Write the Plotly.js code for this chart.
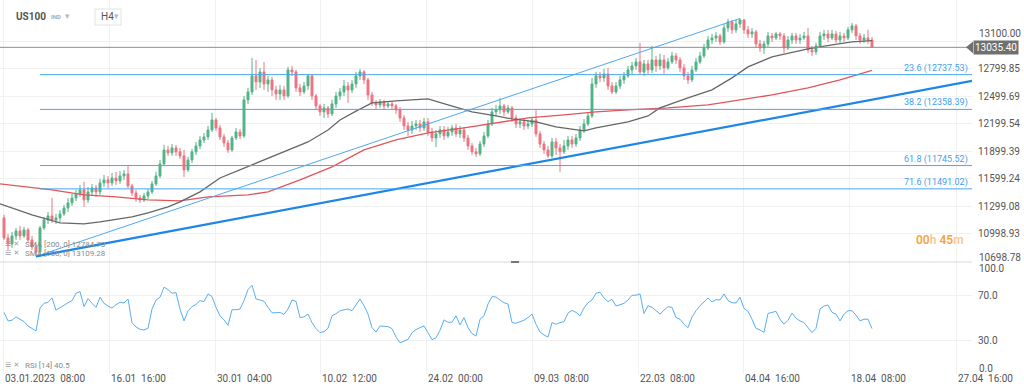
<!DOCTYPE html>
<html><head><meta charset="utf-8">
<script src="https://cdn.plot.ly/plotly-3.0.1.min.js"></script>
<style>html,body{margin:0;padding:0;background:#fff;}#chart{width:1024px;height:392px;}</style>
</head><body><div id="chart"></div>
<script>
// ---- data (US100, H4) ----
const openP = [11174,10956,10890,10978,11032,10978,11043,10934,10857,10803,
11065,11152,11196,11152,11174,11218,11283,11338,11392,11436,
11480,11370,11458,11501,11458,11556,11589,11556,11610,11578,
11632,11654,11523,11447,11392,11370,11414,11458,11545,11632,
11763,11916,11884,11938,11895,11851,11698,11807,11895,11960,
12025,12058,12134,12243,12156,12058,11992,11916,12047,12112,
12069,12462,12549,12724,12658,12767,12636,12680,12571,12527,
12571,12505,12789,12767,12593,12549,12614,12724,12505,12396,
12331,12374,12309,12418,12505,12549,12614,12571,12636,12724,
12767,12680,12516,12429,12407,12440,12396,12418,12396,12353,
12265,12178,12134,12178,12200,12156,12222,12112,12047,12091,
12134,12069,12112,12156,12091,12134,12047,11960,11895,11873,
11981,12069,12200,12331,12353,12396,12331,12374,12265,12200,
12222,12178,12200,12243,12091,11981,11916,11851,12003,11938,
11895,11960,12025,11981,12047,12134,12200,12287,12636,12724,
12702,12745,12614,12549,12614,12680,12724,12789,12833,12876,
12767,12855,12789,12898,12833,12898,12811,12876,12942,12898,
12811,12724,12680,12789,12876,12942,13029,13116,13138,13160,
13095,13247,13313,13226,13291,13335,13226,13182,13204,13073,
13029,13073,13160,13138,13182,13160,13029,13116,13160,13116,
13138,13160,13007,12986,13051,13160,13182,13138,13182,13116,
13160,13138,13226,13269,13160,13116,13138,13116];
const highP = [11207,10999,11021,11065,11087,11076,11065,10978,10890,11087,
11185,11239,11392,11218,11261,11316,11392,11436,11480,11534,
11567,11512,11545,11534,11600,11643,11632,11665,11676,11687,
11698,11752,11545,11480,11425,11447,11490,11578,11676,11807,
11971,11960,11981,11971,11938,11916,11840,11927,12003,12069,
12101,12178,12320,12265,12189,12091,12025,12069,12156,12145,
12505,12593,12920,12898,12811,12876,12724,12713,12614,12625,
12614,12822,12833,12789,12636,12658,12745,12745,12527,12418,
12418,12396,12462,12549,12593,12680,12658,12680,12767,12800,
12789,12702,12549,12462,12473,12462,12451,12440,12418,12385,
12298,12222,12233,12243,12243,12265,12265,12156,12134,12178,
12178,12167,12189,12200,12178,12167,12080,11992,11938,12014,
12112,12243,12374,12407,12484,12418,12407,12396,12298,12265,
12254,12243,12276,12353,12123,12014,11960,12047,12047,11981,
12025,12069,12069,12091,12178,12254,12320,12702,12767,12767,
12800,12811,12658,12658,12724,12767,12833,12876,12920,13084,
12898,12898,13051,12942,12964,12953,12920,12986,12975,12931,
12855,12767,12833,12920,12986,13073,13160,13182,13204,13182,
13291,13346,13335,13335,13350,13340,13269,13247,13226,13116,
13106,13204,13193,13204,13204,13193,13160,13193,13193,13182,
13204,13247,13051,13084,13204,13226,13226,13226,13215,13204,
13193,13258,13302,13291,13193,13182,13226,13149];
const lowP = [10934,10825,10847,10934,10934,10956,10901,10825,10754,10759,
11043,11108,11119,11108,11130,11196,11239,11305,11359,11403,
11294,11338,11414,11403,11425,11512,11501,11523,11534,11545,
11589,11501,11414,11349,11338,11349,11381,11436,11523,11610,
11742,11851,11851,11851,11818,11621,11676,11774,11862,11927,
11992,12025,12112,12123,12025,11949,11884,11895,12025,12036,
12047,12418,12516,12571,12593,12571,12549,12505,12462,12462,
12462,12484,12724,12549,12505,12527,12571,12462,12353,12287,
12265,12265,12287,12374,12462,12505,12429,12538,12593,12680,
12636,12462,12396,12364,12374,12353,12374,12353,12309,12222,
12134,12069,12091,12134,12112,12123,12069,12003,11949,12047,
12025,12047,12069,12058,12047,12003,11916,11862,11840,11851,
11949,12047,12178,12287,12309,12287,12309,12222,12156,12156,
12134,12145,12167,12058,11938,11873,11829,11829,11862,11676,
11873,11916,11938,11949,12014,12101,12178,12265,12593,12658,
12658,12571,12527,12527,12582,12636,12702,12745,12789,12745,
12724,12745,12756,12767,12789,12745,12789,12855,12855,12767,
12680,12636,12658,12767,12855,12920,13007,13073,13095,13062,
13073,13204,13182,13193,13247,13182,13138,13138,13029,12986,
12964,13040,13095,13116,13116,12975,13007,13073,13073,13073,
13116,12975,12942,12953,13029,13116,13095,13116,13084,13073,
13095,13116,13193,13116,13073,13084,13073,13029];
const closeP = [10956,10890,10978,11032,10978,11043,10934,10857,10803,11065,
11152,11196,11152,11174,11218,11283,11338,11392,11436,11480,
11370,11458,11501,11458,11556,11589,11556,11610,11578,11632,
11654,11523,11447,11392,11370,11414,11458,11545,11632,11763,
11916,11884,11938,11895,11851,11698,11807,11895,11960,12025,
12058,12134,12243,12156,12058,11992,11916,12047,12112,12069,
12462,12549,12724,12658,12767,12636,12680,12571,12527,12571,
12505,12789,12767,12593,12549,12614,12724,12505,12396,12331,
12374,12309,12418,12505,12549,12614,12571,12636,12724,12767,
12680,12516,12429,12407,12440,12396,12418,12396,12353,12265,
12178,12134,12178,12200,12156,12222,12112,12047,12091,12134,
12069,12112,12156,12091,12134,12047,11960,11895,11873,11981,
12069,12200,12331,12353,12396,12331,12374,12265,12200,12222,
12178,12200,12243,12091,11981,11916,11851,12003,11938,11895,
11960,12025,11981,12047,12134,12200,12287,12636,12724,12702,
12745,12614,12549,12614,12680,12724,12789,12833,12876,12767,
12855,12789,12898,12833,12898,12811,12876,12942,12898,12811,
12724,12680,12789,12876,12942,13029,13116,13138,13160,13095,
13247,13313,13226,13291,13335,13226,13182,13204,13073,13029,
13073,13160,13138,13182,13160,13029,13116,13160,13116,13138,
13160,13007,12986,13051,13160,13182,13138,13182,13116,13160,
13138,13226,13269,13160,13116,13138,13116,13035];
const rsiVals = [55.0,47.4,48.0,51.0,48.9,46.8,42.9,40.5,38.4,58.9,
63.1,64.0,67.9,57.1,58.9,61.3,63.7,65.5,72.1,73.6,
60.1,67.3,63.1,59.5,68.5,63.1,60.7,58.9,61.9,64.0,
63.4,67.0,45.9,42.0,39.9,39.3,40.8,58.0,66.1,68.5,
77.5,75.4,72.1,72.7,58.0,47.4,56.5,60.1,62.2,65.5,
64.6,71.5,69.1,59.5,52.0,48.3,43.5,57.4,57.4,58.0,
65.5,75.4,79.3,67.0,66.1,64.9,59.5,54.7,54.7,55.0,
53.2,58.0,66.1,64.9,50.4,51.0,53.5,45.9,40.5,36.9,
37.8,40.8,52.0,53.8,56.5,57.4,58.0,56.5,61.6,67.0,
61.0,53.5,41.4,37.5,42.9,42.9,42.3,40.5,33.0,27.9,
29.4,30.9,36.9,39.6,41.4,42.9,36.9,30.6,32.4,39.0,
48.3,46.2,46.2,52.0,43.8,50.4,41.4,36.0,33.9,48.9,
52.0,62.5,69.1,68.8,66.1,63.7,62.5,45.9,45.3,46.5,
48.0,50.4,53.5,44.4,37.5,34.8,33.0,45.9,44.4,45.9,
46.8,54.4,56.8,55.0,52.0,58.9,63.7,66.1,72.1,73.0,
67.9,64.6,66.7,60.7,61.9,63.1,66.1,70.3,70.3,71.5,
54.1,61.0,59.5,56.2,53.5,57.1,60.1,59.5,50.4,48.9,
44.4,41.4,51.0,56.5,61.0,64.3,67.9,64.3,66.4,66.1,
71.5,65.5,63.7,63.4,68.5,58.6,55.9,48.9,40.8,39.3,
37.2,54.1,54.7,55.9,48.9,44.4,48.0,54.4,49.8,47.4,
45.9,41.4,36.9,40.8,58.0,60.7,61.6,55.0,53.5,47.4,
53.5,56.5,56.5,52.6,47.4,48.9,48.9,40.5];
const sma100Idx = [-1,7,14,20,24,32,36,41,44,49,54,59,62,66,71,76,81,84,88,92,98,106,111,117,123,127,133,138,145,148,152,156,161,164,171,177,182,186,192,201,207,212,217];
const sma100Val = [11327,11207,11119,11108,11130,11185,11229,11294,11349,11458,11610,11698,11752,11829,11916,12003,12134,12243,12340,12429,12451,12473,12407,12331,12287,12254,12222,12167,12123,12156,12189,12222,12287,12374,12484,12571,12702,12822,12931,13018,13062,13095,13109];
const sma200Idx = [-1,12,20,28,36,44,51,61,66,74,82,90,98,106,115,123,131,140,148,156,166,176,184,192,201,209,217];
const sma200Val = [11545,11480,11425,11403,11370,11359,11403,11425,11458,11589,11731,11916,12025,12101,12156,12211,12265,12298,12331,12353,12374,12407,12462,12516,12593,12680,12785];
const fibNames = ['23.6','38.2','61.8','71.6'];
const fibLevels = [12737.53,12358.39,11745.52,11491.02];
const fibStartIdx = 9;
const swingLow = {idx: 8, val: 10753.6};
const swingHigh = {idx: 184, val: 13350.4};
const trendEnd = {idx: 242, val: 12669};
const lastPrice = 13035.40;
const priceTicks = [10698.78,10998.93,11299.08,11599.24,11899.39,12199.54,12499.69,12799.85,13100.00];
const rsiTicks = [0,30,70,100];
const timeTickIdx = [-0.25,26.25,52.75,79,105.5,132,158.5,184.75,211.25,238];
const timeTickText = ['03.01.2023\u00a0\u00a008:00','16.01\u00a0\u00a016:00','30.01\u00a0\u00a004:00','10.02\u00a0\u00a012:00','24.02\u00a0\u00a000:00','09.03\u00a0\u00a008:00','22.03\u00a0\u00a008:00','04.04\u00a0\u00a016:00','18.04\u00a0\u00a008:00','27.04\u00a0\u00a016:00'];
const sma200Label = 'SMA [200, 0] 12784.73';
const sma100Label = 'SMA [100, 0] 13109.28';
const rsiLabel = 'RSI [14] 40.5';

// ---- layout helpers ----
const W = 1024, H = 392, ML = 0, MR = 52, MT = 0, MB = 18;
const PW = W - ML - MR, PH = H - MT - MB;
const px = v => (v - ML) / PW;
const py = v => 1 - (v - MT) / PH;
const xRange = [-1, 242];
const split = py(262);
const idx = closeP.map((_, i) => i);
const FONT = 'Roboto, "Open Sans", sans-serif';

const traces = [
  {type:'candlestick', x: idx, open: openP, high: highP, low: lowP, close: closeP,
   xaxis:'x', yaxis:'y', whiskerwidth:0, hoverinfo:'skip', showlegend:false,
   increasing:{line:{color:'#52b486', width:1}, fillcolor:'#52b486'},
   decreasing:{line:{color:'#ef7480', width:1}, fillcolor:'#ef7480'}},
  {type:'scatter', mode:'lines', x: sma200Idx, y: sma200Val, xaxis:'x', yaxis:'y',
   line:{color:'#e0565c', width:1.3}, hoverinfo:'skip', showlegend:false},
  {type:'scatter', mode:'lines', x: sma100Idx, y: sma100Val, xaxis:'x', yaxis:'y',
   line:{color:'#676767', width:1.3}, hoverinfo:'skip', showlegend:false},
  {type:'scatter', mode:'lines', x: [swingLow.idx, swingHigh.idx], y: [swingLow.val, swingHigh.val],
   xaxis:'x', yaxis:'y', line:{color:'#4ea8f2', width:1}, hoverinfo:'skip', showlegend:false},
  {type:'scatter', mode:'lines', x: [swingLow.idx, trendEnd.idx], y: [swingLow.val, trendEnd.val],
   xaxis:'x', yaxis:'y', line:{color:'#1e86e6', width:2.2}, hoverinfo:'skip', showlegend:false},
  {type:'scatter', mode:'lines', x: idx, y: rsiVals, xaxis:'x2', yaxis:'y2',
   line:{color:'#5aaef3', width:1}, hoverinfo:'skip', showlegend:false}
];

const shapes = [];
const annotations = [];
fibLevels.forEach((lv, k) => {
  shapes.push({type:'line', xref:'x', yref:'y', x0: fibStartIdx, x1: xRange[1], y0: lv, y1: lv,
    line:{color:'#4aa6f0', width:1}});
  annotations.push({xref:'paper', yref:'y', x: px(970), y: lv, xanchor:'right', yanchor:'bottom',
    text: fibNames[k] + ' (' + lv.toFixed(2) + ')', showarrow:false, yshift:-1,
    font:{family:FONT, size:9, color:'#3f9ff0'}});
});
shapes.push({type:'line', xref:'x', yref:'y', x0: xRange[0], x1: xRange[1], y0: lastPrice, y1: lastPrice,
  line:{color:'#8e8e8e', width:1}});
// separator between panels
shapes.push({type:'line', xref:'paper', yref:'paper', x0: 0, x1: 1, y0: split, y1: split,
  line:{color:'#d8d8d8', width:1}});
shapes.push({type:'line', xref:'paper', yref:'paper', x0: px(511), x1: px(519), y0: split, y1: split,
  line:{color:'#777', width:2}});
// H4 box
shapes.push({type:'rect', xref:'paper', yref:'paper', x0: px(95), x1: px(121), y0: py(25), y1: py(9),
  line:{color:'#e2e2e2', width:1}, fillcolor:'rgba(255,255,255,0.9)'});
// last price tag arrow
const dv = 65;
shapes.push({type:'path', xref:'paper', yref:'y',
  path: 'M ' + px(966) + ',' + lastPrice + ' L ' + px(973) + ',' + (lastPrice + dv) + ' L ' + px(973) + ',' + (lastPrice - dv) + ' Z',
  fillcolor:'#707070', line:{width:0}});
annotations.push({xref:'paper', yref:'y', x: px(973), y: lastPrice, xanchor:'left', yanchor:'middle',
  text: lastPrice.toFixed(2), showarrow:false, bgcolor:'#707070', borderpad:1,
  font:{family:FONT, size:10, color:'#ffffff'}});

// header
annotations.push({xref:'paper', yref:'paper', x: px(14), y: py(17), xanchor:'left', yanchor:'middle',
  text:'US100', showarrow:false, font:{family:FONT, size:10, color:'#555', weight:700}});
annotations.push({xref:'paper', yref:'paper', x: px(49), y: py(17), xanchor:'left', yanchor:'middle',
  text:'IND', showarrow:false, font:{family:FONT, size:6, color:'#aaa', weight:700}});
annotations.push({xref:'paper', yref:'paper', x: px(63), y: py(16), xanchor:'left', yanchor:'middle',
  text:'\u25BE', showarrow:false, font:{family:'DejaVu Sans', size:9, color:'#bbb'}});
annotations.push({xref:'paper', yref:'paper', x: px(99), y: py(17), xanchor:'left', yanchor:'middle',
  text:'H4', showarrow:false, font:{family:FONT, size:10, color:'#555'}});
annotations.push({xref:'paper', yref:'paper', x: px(112), y: py(16), xanchor:'left', yanchor:'middle',
  text:'\u25BE', showarrow:false, font:{family:'DejaVu Sans', size:9, color:'#bbb'}});

// indicator legends
[[sma200Label, 244], [sma100Label, 253], [rsiLabel, 365]].forEach(([t, yy]) => {
  annotations.push({xref:'paper', yref:'paper', x: px(3), y: py(yy), xanchor:'left', yanchor:'middle',
    text:'\u2630 \u2715', showarrow:false, font:{family:'DejaVu Sans', size:7, color:'#9a9a9a'}});
  annotations.push({xref:'paper', yref:'paper', x: px(23), y: py(yy), xanchor:'left', yanchor:'middle',
    text: t, showarrow:false, font:{family:FONT, size:8, color:'#8a8a8a'}});
});
// countdown
annotations.push({xref:'paper', yref:'paper', x: px(966), y: py(240), xanchor:'right', yanchor:'middle',
  text:'<span style="color:#f6a343">00</span><span style="color:#f8c993">h </span><span style="color:#f6a343">45</span><span style="color:#f8c993">m</span>',
  showarrow:false, font:{family:FONT, size:12, weight:600}});

// axis edge labels
const labelFont = {family:FONT, size:10, color:'#555'};
annotations.push({xref:'paper', yref:'paper', x: px(977), y: py(33), xanchor:'left', yanchor:'middle',
  text: priceTicks[8].toFixed(2), showarrow:false, font: labelFont});
annotations.push({xref:'paper', yref:'paper', x: px(977), y: py(257.5), xanchor:'left', yanchor:'middle',
  text: priceTicks[0].toFixed(2), showarrow:false, font: labelFont});
annotations.push({xref:'paper', yref:'paper', x: px(977), y: py(268), xanchor:'left', yanchor:'middle',
  text: rsiTicks[3].toFixed(1), showarrow:false, font: labelFont});
annotations.push({xref:'paper', yref:'paper', x: px(977), y: py(368), xanchor:'left', yanchor:'middle',
  text: rsiTicks[0].toFixed(1), showarrow:false, font: labelFont});
// time labels
timeTickIdx.forEach((t, k) => {
  annotations.push({xref:'x', yref:'paper', x: t, y: py(378), xanchor:'left', yanchor:'middle',
    text: timeTickText[k], showarrow:false, font: labelFont});
});

const gridC = '#f1f1f1';
const layout = {
  width: W, height: H, margin:{l:ML, r:MR, t:MT, b:MB},
  paper_bgcolor:'#fff', plot_bgcolor:'#fff', showlegend:false,
  font:{family:FONT, size:10, color:'#555'},
  xaxis:{domain:[0,1], range: xRange, anchor:'y', tickvals: timeTickIdx, showticklabels:false,
    showgrid:true, gridcolor: gridC, zeroline:false, showline:false, ticks:'', rangeslider:{visible:false}, fixedrange:true},
  xaxis2:{domain:[0,1], range: xRange, anchor:'y2', matches:'x', tickvals: timeTickIdx, showticklabels:false,
    showgrid:true, gridcolor: gridC, zeroline:false, showline:false, ticks:'', fixedrange:true},
  yaxis:{domain:[split,1], range:[10693,13552], side:'right', anchor:'x',
    tickvals: priceTicks, ticktext: priceTicks.map((v, k) => (k === 0 || k === 8) ? '' : v.toFixed(2)),
    showgrid:true, gridcolor: gridC, zeroline:false, showline:false, ticks:'', ticklabelstandoff:5,
    tickfont: labelFont, fixedrange:true},
  yaxis2:{domain:[0,split], range:[0,100], side:'right', anchor:'x2',
    tickvals: rsiTicks, ticktext: rsiTicks.map(v => (v === 30 || v === 70) ? v.toFixed(1) : ''),
    showgrid:true, gridcolor: gridC, zeroline:false, showline:false, ticks:'', ticklabelstandoff:5,
    tickfont: labelFont, fixedrange:true},
  shapes, annotations
};
Plotly.newPlot('chart', traces, layout, {displayModeBar:false, staticPlot:true});
</script></body></html>
